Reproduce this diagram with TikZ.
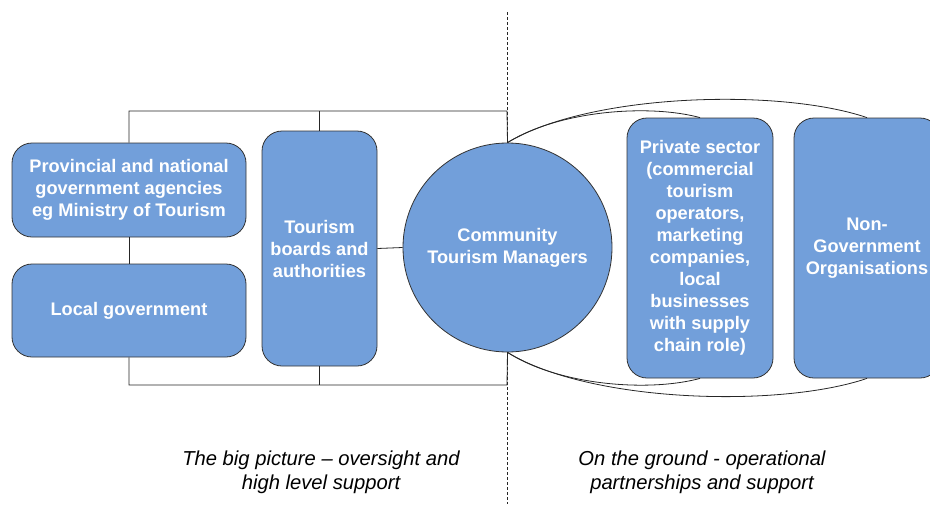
\documentclass[tikz,border=0pt]{standalone}
\usepackage{fontspec}
\setmainfont{Liberation Sans}
\begin{document}
\begin{tikzpicture}[x=1pt,y=-1pt,
  box/.style={draw=black!80, line width=0.8pt, fill=boxblue, rounded corners=20pt, text=white, font=\bfseries\fontsize{18.2}{22}\selectfont, align=center, inner sep=0pt},
  circbox/.style={draw=black!80, line width=0.8pt, fill=boxblue, circle, text=white, font=\bfseries\fontsize{18.2}{22}\selectfont, align=center, inner sep=0pt, minimum size=209pt},
  conn/.style={draw=black!85, line width=0.8pt},
  caption/.style={font=\itshape\fontsize{20.2}{24}\selectfont, align=center, text=black}]
\definecolor{boxblue}{RGB}{114,159,218}
\useasboundingbox (0,0) rectangle (930,504);
\coordinate (dtop) at (507,12);
\coordinate (dbot) at (507,504);
\draw[black!85, line width=0.8pt, dashed, dash pattern=on 3pt off 2pt] (dtop) -- (dbot);
\coordinate (top) at (507,111);
\coordinate (bot) at (507,385);
\node[box, minimum width=234pt, minimum height=94pt] (prov) at (129,190) {Provincial and national\\government agencies\\eg Ministry of Tourism};
\node[box, minimum width=234pt, minimum height=93pt] (local) at (129,310.5) {Local government};
\node[box, minimum width=115pt, minimum height=235pt] (tb) at (319.5,248.5) {Tourism\\boards and\\authorities};
\node[circbox] (ctm) at (507.5,247.5) {Community\\Tourism Managers};
\node[box, minimum width=146pt, minimum height=260pt] (priv) at (700,248) {Private sector\\(commercial\\tourism\\operators,\\marketing\\companies,\\local\\businesses\\with supply\\chain role)};
\node[box, minimum width=146pt, minimum height=260pt] (ngo) at (867,248) {Non-\\Government\\Organisations};
\draw[conn] (prov.north) -- (prov.north |- top) -- (top) -- (ctm.north);
\draw[conn] (local.south) -- (local.south |- bot) -- (bot) -- (ctm.south);
\draw[conn] (prov.south) -- (local.north);
\draw[conn] (tb.north) -- (tb.north |- top);
\draw[conn] (tb.south) -- (tb.south |- bot);
\draw[conn] (tb.east) -- (ctm.west);
\draw[conn] (ctm.north) .. controls (560,110) and (650,104) .. (priv.north);
\draw[conn] (ctm.north) .. controls (590,93) and (780,88) .. (ngo.north);
\draw[conn] (ctm.south) .. controls (560,386) and (650,392) .. (priv.south);
\draw[conn] (ctm.south) .. controls (590,403) and (780,408) .. (ngo.south);
\node[caption] (capl) at (321,472) {The big picture – oversight and\\high level support};
\node[caption] (capr) at (702,472) {On the ground - operational\\partnerships and support};
\end{tikzpicture}
\end{document}
